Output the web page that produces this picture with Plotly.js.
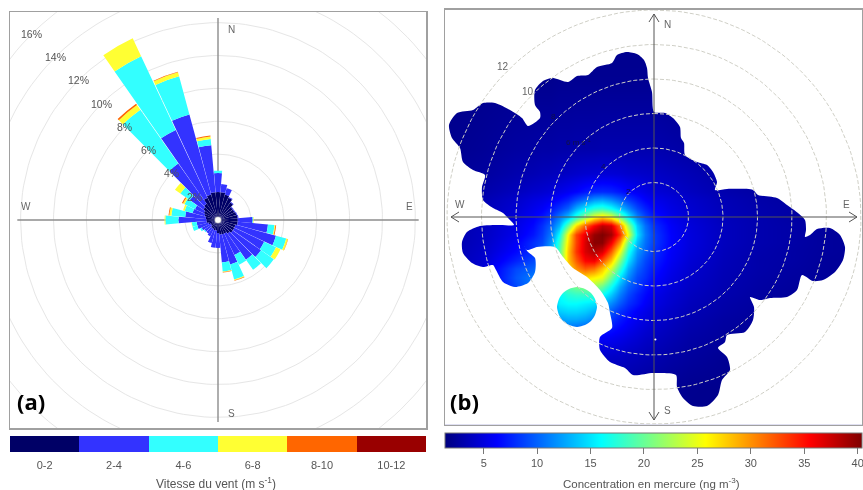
<!DOCTYPE html>
<html><head><meta charset="utf-8">
<script src="https://cdn.plot.ly/plotly-3.0.1.min.js"></script>
<style>html,body{margin:0;padding:0;background:#fff}#chart{width:863px;height:490px;filter:blur(0.5px)}</style>
</head><body><div id="chart"></div>
<script>
// ---------- (a) wind rose: % of time per bearing and speed class ----------
const speedClasses = ['0-2','2-4','4-6','6-8','8-10','10-12'];
const speedColors  = ['#000066','#3333FF','#33FFFF','#FFFF33','#FF6600','#990000'];
const bearings = [0,10,20,30,40,50,60,70,80,90,100,110,120,130,140,150,160,170,180,190,200,210,220,230,240,250,260,270,280,290,300,310,320,330,340,350];
const speed0_2 = [1.7,1.7,1.6,1.5,1.3,1.1,1.1,1.15,1.2,1.2,1.2,1.1,1.1,1.1,1.0,0.9,0.9,0.9,0.8,0.65,0.65,0.6,0.6,0.5,0.5,0.6,0.7,0.7,0.75,0.85,0.95,1.1,1.2,1.5,1.6,1.7];
const speed2_4 = [1.15,0.5,0.4,0.05,0.05,0.05,0.05,0.05,0.05,0.9,1.85,2.55,2.0,2.1,1.95,1.45,1.9,1.7,0.9,1.05,0.8,0.5,0.4,0.5,0.6,0.7,0.6,1.7,1.25,0.75,0.6,1.0,3.0,4.55,5.05,2.87];
const speed4_6 = [0.15,0,0,0,0,0,0,0,0,0.04,0.4,0.65,0.8,0.95,0.75,0.65,0.95,0.55,0,0,0,0,0,0.05,0.1,0.3,0.3,0.8,0.85,0.5,0.7,0.7,4.0,4.95,2.4,0.38];
const speed6_8 = [0,0,0,0,0,0,0,0,0,0.03,0.05,0.1,0.3,0,0,0,0.05,0.03,0,0,0,0,0,0,0,0,0.02,0.05,0.12,0.1,0.1,0.4,0.35,1.2,0.25,0.15];
const speed8_10 = [0,0,0,0,0,0,0,0,0,0,0.05,0.02,0,0,0,0,0.03,0.03,0,0,0,0,0,0,0,0,0,0,0.05,0,0.07,0,0.1,0,0.03,0.05];
const speed10_12 = bearings.map(() => 0);
const roseSeries = [speed0_2,speed2_4,speed4_6,speed6_8,speed8_10,speed10_12];
const roseRings = [2,4,6,8,10,12,14,16,18];
const roseLabels = [2,4,6,8,10,12,14,16];

// ---------- (b) mercury concentration by wind (m/s east, m/s north) ----------
const gridEast = [-12,-10,-8,-7,-6.5,-6,-5.5,-5,-4.5,-4,-3.5,-3,-2.5,-2,-1.5,-1,-0.5,0,1,2,4,6,8,10,12];
const gridNorth = [12,8,4,2.5,1.5,1,0.5,0,-0.5,-1,-1.5,-2,-2.5,-3,-3.5,-4,-4.5,-5,-5.5,-6,-7,-8,-10,-12];
const mercury = [
[1.8,1.8,1.8,1.8,1.8,1.8,1.8,1.8,1.8,1.8,1.8,1.8,1.8,1.8,1.8,1.8,1.8,1.8,1.8,1.8,1.8,1.8,1.8,1.8,1.8],
[1.8,1.9,2,2,2,2,2.1,2.1,2.1,2.1,2.1,2.1,2.1,2.1,2.1,2.1,2.1,2.1,2,2,1.9,1.9,1.8,1.8,1.8],
[2,2.3,2.7,2.8,2.9,2.9,3,3,3.1,3.1,3.1,3.2,3.2,3.2,3.2,3.2,3.2,3.2,3,2.8,2.4,2.2,2,1.9,1.9],
[2.3,2.6,3.2,3.4,3.6,3.7,3.9,4.1,4.3,4.5,4.6,4.7,4.7,4.6,4.4,4.3,4.2,4.1,3.8,3.5,2.9,2.6,2.3,2.1,1.9],
[2.5,3,3.8,4.3,4.5,4.8,5.3,5.8,6.3,7,7.6,7.8,7.6,7,6.3,5.8,5.3,4.8,4.4,3.9,3.2,2.8,2.5,2.2,2],
[2.7,3.3,4.3,5,5.3,5.8,6.5,7.5,9,10.5,12,12.5,11.5,10,8.5,7.2,6.2,5.5,4.9,4.3,3.5,3,2.7,2.4,2.2],
[2.8,3.4,4.6,5.5,6,7,8.3,10,13,15.5,17.5,18,16.5,14,11.5,9,7.5,6.2,5.2,4.5,3.6,3.1,2.8,2.4,2.2],
[2.9,3.6,5,6,7,8.5,11,14,18,22,26,28,26,21,16,11.5,9,7,5.6,4.7,3.7,3.2,2.8,2.5,2.3],
[3,3.8,5.3,6.5,8,10,13,20,27,32,35.5,38,37,31,22,14,10.5,8,6,4.9,3.8,3.2,2.9,2.5,2.3],
[3,3.9,5.5,7,8.5,11,16,26,33,36.5,39.5,40.4,39,33.5,25,15,11,8.5,6.2,5,3.8,3.2,2.9,2.5,2.3],
[3,4,6,8,9,12,18,27,33,37,40,40,36,29.5,20,13.5,10.5,8.5,6.2,5,3.8,3.2,2.9,2.5,2.3],
[3.1,4.2,6.5,8,10,13,19,28,33.5,37,38.5,37,32,25,17,12,10,8,6,4.9,3.7,3.1,2.8,2.5,2.3],
[3.1,4.4,7.5,9,10,13,19,28,32,35.5,36,32.5,28,21,15,11,9,7.5,5.8,4.7,3.6,3,2.8,2.4,2.3],
[3.1,4.6,9,10,11,14,20,27,30,32,31,28,24,18,13,10,8.5,7,5.5,4.5,3.5,3,2.7,2.4,2.2],
[3,4.5,9.5,11,12,14,19,26,27,27,26,25,20,15,11.5,9,8,6.5,5.2,4.3,3.4,2.9,2.6,2.4,2.2],
[3,4.4,9,11,12,14,18,19.5,20.5,21,22,20,16.5,12.5,10,8.5,7,6,4.9,4.1,3.3,2.8,2.5,2.3,2.2],
[3,4.2,8,10,11,13,16,17.5,18,18,18,16.5,14,11,9,7.5,6.5,5.5,4.6,3.9,3.2,2.7,2.4,2.2,2.1],
[2.9,4,7,9,10,12,15.5,16,16,15.5,15,13,11.5,9.5,8,7,6,5.2,4.4,3.7,3,2.6,2.3,2.1,2],
[2.8,3.8,6,8,9,11,14,14.5,14.5,14,13,11,9.5,8,7,6,5.4,4.8,4.1,3.5,2.9,2.5,2.2,2,2],
[2.7,3.6,5.5,7,8,10,12,12.5,12.5,12,11,8.5,8,7,6.2,5.5,5,4.5,3.9,3.3,2.7,2.4,2.2,2,2],
[2.5,3.2,4.5,5.5,6,7,8,8,7.5,7,6.5,6,5.8,5.4,5,4.6,4.2,3.9,3.4,2.9,2.5,2.2,2,2,2],
[2.3,2.8,3.6,4,4.3,4.6,4.8,4.8,4.7,4.5,4.4,4.3,4.2,4.1,3.9,3.7,3.5,3.3,2.9,2.6,2.2,2,2,2,2],
[2,2.2,2.6,2.7,2.8,2.9,2.9,2.9,2.9,2.9,2.9,2.8,2.8,2.8,2.7,2.6,2.5,2.4,2.2,2,1.9,1.9,1.9,1.9,1.9],
[1.9,1.9,1.9,1.9,1.9,1.9,1.9,1.9,1.9,1.9,1.9,1.9,1.9,1.9,1.9,1.9,1.9,1.9,1.9,1.9,1.9,1.9,1.9,1.9,1.9]
];
const domainEast = [0,11,19,26,27,30,31,43,53,59,63,61,73,99,104,123,133,144,151,152,151,156,163,176,186,191,189,181,169,159,148,143,133,116,106,96,100,99,91,73,71,64,73,76,68,64,53,39,29,23,22,-1,-21,-29,-44,-54,-54,-42,-44,-46,-54,-67,-81,-91,-99,-117,-127,-131,-126,-119,-119,-126,-139,-151,-158,-161,-171,-182,-191,-192,-187,-174,-154,-140,-146,-151,-161,-171,-172,-169,-181,-191,-194,-202,-205,-197,-181,-171,-159,-144,-132,-126,-114,-114,-119,-119,-111,-101,-86,-77,-66,-57,-42,-37,-27,-17,-10,-7,-6,-2];
const domainNorth = [105,104,99,90,79,74,62,55,52,45,35,27,28,27,22,19,12,4,-3,-13,-20,-18,-12,-11,-18,-30,-43,-55,-63,-64,-58,-73,-80,-81,-83,-80,-90,-103,-115,-118,-125,-131,-140,-153,-163,-178,-189,-189,-181,-170,-158,-156,-158,-151,-145,-133,-120,-111,-96,-86,-73,-60,-51,-40,-30,-30,-33,-28,-35,-41,-55,-66,-70,-65,-53,-48,-50,-46,-36,-25,-15,-9,-8,-8,-1,4,9,17,30,42,47,55,69,79,92,104,107,114,114,107,99,91,99,105,112,127,136,139,135,141,142,150,154,162,165,163,157,149,139,125];
const islandEast = [-77,-69,-63,-59,-57,-59,-63,-69,-77,-85,-91,-95,-97,-95,-91,-85];
const islandNorth = [-70,-72,-76,-82,-90,-98,-104,-108,-110,-108,-104,-98,-90,-82,-76,-72];
const heatRings = [2,4,6,8,10,12];
const heatRingLabels = ['2','4','6 m s<sup>-1</sup>','8','10','12'];
const heatTicks = [5,10,15,20,25,30,35,40];
const jet = [[0,'#00007F'],[0.125,'#0000FF'],[0.375,'#00FFFF'],[0.5,'#7FFF7F'],[0.625,'#FFFF00'],[0.875,'#FF0000'],[1,'#7F0000']];

// ---------- page geometry ----------
const W = 863, H = 490;
const fx = p => p / W, fy = p => 1 - p / H;
const rosePx = 16.45, roseR = 208 / rosePx;
const heatPx = 17.25;
const circle = r => { const xs = [], ys = []; for (let a = 0; a <= 360; a += 2) { xs.push(r*Math.sin(a*Math.PI/180)); ys.push(r*Math.cos(a*Math.PI/180)); } return [xs,ys]; };
const join = (rings) => { const xs=[],ys=[]; rings.forEach(r=>{const [a,b]=circle(r); xs.push(...a,null); ys.push(...b,null);}); return [xs,ys]; };
const [rxs,rys] = join(roseRings);
const [hxs,hys] = join(heatRings);
const toMs = v => v / heatPx;
const maskX = [-30,30,30,-30,-30,null,...domainEast.map(toMs),domainEast[0]/heatPx,null,...islandEast.map(toMs),islandEast[0]/heatPx];
const maskY = [-30,-30,30,30,-30,null,...domainNorth.map(toMs),domainNorth[0]/heatPx,null,...islandNorth.map(toMs),islandNorth[0]/heatPx];

const traces = [
  {type:'scatter',mode:'lines',x:rxs,y:rys,line:{color:'#e6e6e6',width:1},xaxis:'x',yaxis:'y',hoverinfo:'skip',showlegend:false},
  {type:'scatter',mode:'lines',x:[-12.2,12.2,null,0,0],y:[0,0,null,12.28,-12.28],line:{color:'#8c8c8c',width:1.4},xaxis:'x',yaxis:'y',hoverinfo:'skip',showlegend:false},
  ...roseSeries.map((r,i)=>({type:'barpolar',name:speedClasses[i],r:r,theta:bearings,width:9.7,marker:{color:speedColors[i],line:{width:0}},subplot:'polar',showlegend:false})),
  {type:'heatmap',x:gridEast,y:gridNorth.slice().reverse(),z:mercury.slice().reverse(),xaxis:'x2',yaxis:'y2',zsmooth:'best',zmin:1.38,zmax:40.4,colorscale:jet,
    colorbar:{orientation:'h',x:fx(653.5),xanchor:'center',y:fy(433),yanchor:'top',thicknessmode:'pixels',thickness:15,lenmode:'pixels',len:417,xpad:0,ypad:0,
      outlinecolor:'#777',outlinewidth:1,ticks:'outside',ticklen:6,tickcolor:'#777',tickvals:heatTicks,ticklabeloverflow:'allow',tickfont:{family:'Liberation Sans',size:11,color:'#555'}}},
  {type:'scatter',mode:'lines',x:maskX,y:maskY,fill:'toself',fillcolor:'#ffffff',line:{width:0,color:'rgba(0,0,0,0)',shape:'spline',smoothing:0.7},xaxis:'x2',yaxis:'y2',hoverinfo:'skip',showlegend:false},
  {type:'scatter',mode:'lines',x:hxs,y:hys,line:{color:'#cfcfc6',width:1,dash:'4px,2px'},xaxis:'x2',yaxis:'y2',hoverinfo:'skip',showlegend:false},
  {type:'heatmap',x:speedClasses,y:['v'],z:[speedClasses.map((_,i)=>i)],xaxis:'x3',yaxis:'y3',zmin:-0.5,zmax:5.5,showscale:false,
    colorscale:speedColors.flatMap((c,i)=>[[i/6,c],[(i+1)/6,c]])}
];

const frame = {showgrid:false,zeroline:false,showticklabels:false,ticks:'',showline:true,mirror:true,linecolor:'#a0a0a0',linewidth:1.5,fixedrange:true};
const grey = {family:'Liberation Sans',size:10,color:'#666'};
const note = (px,py,text,font) => ({xref:'paper',yref:'paper',x:fx(px),y:fy(py),text,showarrow:false,font:font||grey,xanchor:'center',yanchor:'middle'});
const annotations = [
  note(231,29,'N'),note(231,413,'S'),note(26,207,'W'),note(409,207,'E'),
  note(667,25,'N'),note(667,410,'S'),note(460,204,'W'),note(846,204,'E'),
  note(31,401,'(a)',{family:'Open Sans',size:22,color:'#000',weight:700}),
  note(464,401,'(b)',{family:'Open Sans',size:22,color:'#000',weight:700}),
  note(216.5,483,'Vitesse du vent (m s<sup>-1</sup>)',{family:'Liberation Sans',size:12,color:'#555'}),
  note(651.5,483,'Concentration en mercure (ng m<sup>-3</sup>)',{family:'Liberation Sans',size:11.5,color:'#555'}),
  ...roseLabels.map(r=>({xref:'x',yref:'y',x:-r*Math.SQRT1_2,y:r*Math.SQRT1_2,text:r+'%',showarrow:false,font:{family:'Liberation Sans',size:10.5,color:'#555'}})),
  ...heatRings.map((r,i)=>({xref:'x2',yref:'y2',x:-r*Math.SQRT1_2*1.03,y:r*Math.SQRT1_2*1.03,text:heatRingLabels[i],showarrow:false,font:{family:'Liberation Sans',size:r<10?8:10,color:r<10?'#111144':'#666'}}))
];
const arrow = (d) => ({type:'path',xref:'paper',yref:'paper',path:d,line:{color:'#555',width:1},layer:'above'});
const P = (x,y) => fx(x)+','+fy(y);
const shapes = [
  arrow(`M${P(654,14)} L${P(654,420)} M${P(649,22)} L${P(654,14)} L${P(659,22)} M${P(649,412)} L${P(654,420)} L${P(659,412)}`),
  arrow(`M${P(451,217)} L${P(857,217)} M${P(459,212)} L${P(451,217)} L${P(459,222)} M${P(849,212)} L${P(857,217)} L${P(849,222)}`),
  {type:'circle',xref:'x',yref:'y',x0:-0.2,x1:0.2,y0:-0.2,y1:0.2,fillcolor:'#fff',line:{color:'#889',width:0.5},layer:'above'},
  {type:'circle',xref:'x2',yref:'y2',x0:0.02,x1:0.14,y0:-7.16,y1:-7.04,fillcolor:'#fff',line:{width:0},layer:'above'}
];

const layout = {
  width:W,height:H,margin:{l:0,r:0,t:0,b:0},paper_bgcolor:'#fff',plot_bgcolor:'#fff',showlegend:false,
  xaxis:{...frame,domain:[fx(10),fx(426)],range:[-roseR,roseR],anchor:'y'},
  yaxis:{...frame,domain:[fy(428),fy(12)],range:[-roseR,roseR],anchor:'x'},
  xaxis2:{...frame,domain:[fx(445),fx(862)],range:[-209/heatPx,208/heatPx],anchor:'y2'},
  yaxis2:{...frame,domain:[fy(424.5),fy(9.5)],range:[-207.5/heatPx,207.5/heatPx],anchor:'x2'},
  xaxis3:{domain:[fx(10),fx(426)],anchor:'y3',type:'category',showgrid:false,zeroline:false,ticks:'outside',ticklen:3,tickcolor:'rgba(0,0,0,0)',showline:false,fixedrange:true,
    tickfont:{family:'Liberation Sans',size:11,color:'#555'}},
  yaxis3:{domain:[fy(452),fy(436)],anchor:'x3',showticklabels:false,ticks:'',showgrid:false,zeroline:false,fixedrange:true,type:'category'},
  polar:{domain:{x:[fx(10),fx(426)],y:[fy(428),fy(12)]},bgcolor:'rgba(0,0,0,0)',barmode:'stack',bargap:0,
    radialaxis:{visible:false,range:[0,roseR],showticklabels:false,ticks:'',showgrid:false,showline:false},
    angularaxis:{visible:false,rotation:90,direction:'clockwise',thetaunit:'degrees',showticklabels:false,ticks:'',showgrid:false,showline:false}},
  annotations,shapes
};
Plotly.newPlot('chart',traces,layout,{staticPlot:true,displayModeBar:false});
</script></body></html>
